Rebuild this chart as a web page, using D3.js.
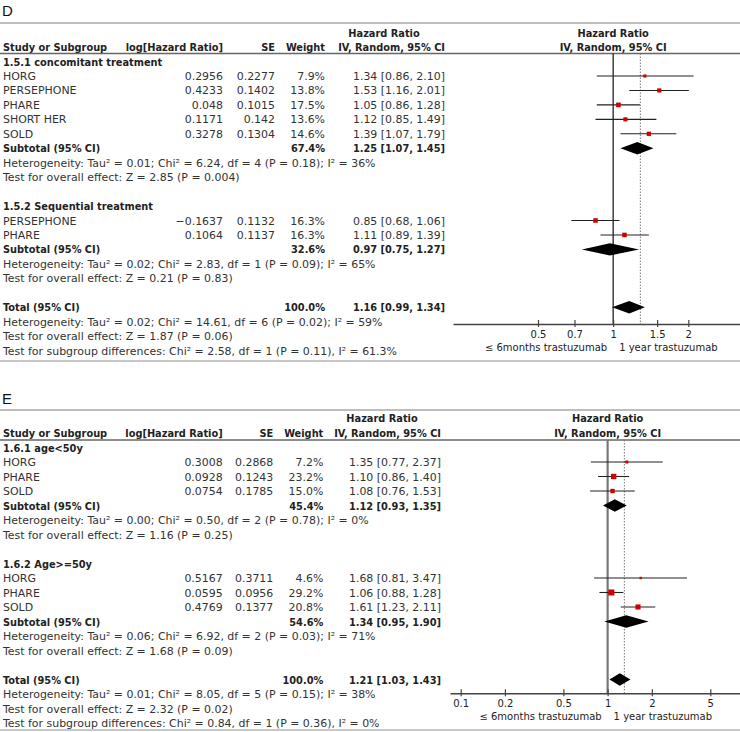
<!DOCTYPE html>
<html><head><meta charset="utf-8">
<script src="https://cdn.jsdelivr.net/npm/d3@7"></script>
<style>body{margin:0;background:#fff}svg{display:block}</style>
</head><body><svg id="c" width="740" height="732"></svg>
<script>
// ---------- Panel D data ----------
const dGroups = ["1.5.1 concomitant treatment", "1.5.2 Sequential treatment"];
const dStudy = ["HORG", "PERSEPHONE", "PHARE", "SHORT HER", "SOLD", "PERSEPHONE", "PHARE"];
const dStudyGroup = [0, 0, 0, 0, 0, 1, 1];
const dLogHR = ["0.2956", "0.4233", "0.048", "0.1171", "0.3278", "\u22120.1637", "0.1064"];
const dSE = ["0.2277", "0.1402", "0.1015", "0.142", "0.1304", "0.1132", "0.1137"];
const dWeight = [7.9, 13.8, 17.5, 13.6, 14.6, 16.3, 16.3];
const dHR = [1.34, 1.53, 1.05, 1.12, 1.39, 0.85, 1.11];
const dLo = [0.86, 1.16, 0.86, 0.85, 1.07, 0.68, 0.89];
const dHi = [2.10, 2.01, 1.28, 1.49, 1.79, 1.06, 1.39];
const dSubWeight = [67.4, 32.6];
const dSubHR = [1.25, 0.97];
const dSubLo = [1.07, 0.75];
const dSubHi = [1.45, 1.27];
const dSubHet = ["Heterogeneity: Tau\u00b2 = 0.01; Chi\u00b2 = 6.24, df = 4 (P = 0.18); I\u00b2 = 36%",
                 "Heterogeneity: Tau\u00b2 = 0.02; Chi\u00b2 = 2.83, df = 1 (P = 0.09); I\u00b2 = 65%"];
const dSubTest = ["Test for overall effect: Z = 2.85 (P = 0.004)", "Test for overall effect: Z = 0.21 (P = 0.83)"];
const dTotalWeight = 100.0, dTotalHR = 1.16, dTotalLo = 0.99, dTotalHi = 1.34;
const dTotalNotes = ["Heterogeneity: Tau\u00b2 = 0.02; Chi\u00b2 = 14.61, df = 6 (P = 0.02); I\u00b2 = 59%",
                     "Test for overall effect: Z = 1.87 (P = 0.06)",
                     "Test for subgroup differences: Chi\u00b2 = 2.58, df = 1 (P = 0.11), I\u00b2 = 61.3%"];
const dTicks = [0.5, 0.7, 1, 1.5, 2];
const dDotted = 1.285;

// ---------- Panel E data ----------
const eGroups = ["1.6.1 age<50y", "1.6.2 Age>=50y"];
const eStudy = ["HORG", "PHARE", "SOLD", "HORG", "PHARE", "SOLD"];
const eStudyGroup = [0, 0, 0, 1, 1, 1];
const eLogHR = ["0.3008", "0.0928", "0.0754", "0.5167", "0.0595", "0.4769"];
const eSE = ["0.2868", "0.1243", "0.1785", "0.3711", "0.0956", "0.1377"];
const eWeight = [7.2, 23.2, 15.0, 4.6, 29.2, 20.8];
const eHR = [1.35, 1.10, 1.08, 1.68, 1.06, 1.61];
const eLo = [0.77, 0.86, 0.76, 0.81, 0.88, 1.23];
const eHi = [2.37, 1.40, 1.53, 3.47, 1.28, 2.11];
const eSubWeight = [45.4, 54.6];
const eSubHR = [1.12, 1.34];
const eSubLo = [0.93, 0.95];
const eSubHi = [1.35, 1.90];
const eSubHet = ["Heterogeneity: Tau\u00b2 = 0.00; Chi\u00b2 = 0.50, df = 2 (P = 0.78); I\u00b2 = 0%",
                 "Heterogeneity: Tau\u00b2 = 0.06; Chi\u00b2 = 6.92, df = 2 (P = 0.03); I\u00b2 = 71%"];
const eSubTest = ["Test for overall effect: Z = 1.16 (P = 0.25)", "Test for overall effect: Z = 1.68 (P = 0.09)"];
const eTotalWeight = 100.0, eTotalHR = 1.21, eTotalLo = 1.03, eTotalHi = 1.43;
const eTotalNotes = ["Heterogeneity: Tau\u00b2 = 0.01; Chi\u00b2 = 8.05, df = 5 (P = 0.15); I\u00b2 = 38%",
                     "Test for overall effect: Z = 2.32 (P = 0.02)",
                     "Test for subgroup differences: Chi\u00b2 = 0.84, df = 1 (P = 0.36), I\u00b2 = 0%"];
const eTicks = [0.1, 0.2, 0.5, 1, 2, 5];
const eDotted = 1.3;

const axisLeftLabel = "\u2264 6months trastuzumab";
const axisRightLabel = "1 year trastuzumab";

// ---------- drawing ----------
const svg = d3.select("#c");
const FONT = "'DejaVu Sans', Verdana, sans-serif";
const FONT_B = "'DejaVu Sans Condensed', 'DejaVu Sans', sans-serif";
const FS = 10.95, FSB = 10.9, FSA = 10;
function txt(g, x, y, s, o = {}) {
  return g.append("text").attr("x", x).attr("y", y).text(s)
    .attr("font-family", o.family || (o.bold ? FONT_B : FONT))
    .attr("font-size", o.size || (o.bold ? FSB : FS))
    .attr("font-weight", o.bold ? "bold" : "normal")
    .attr("text-anchor", o.anchor || "start")
    .attr("fill", o.fill || "#222");
}
const fmtCI = (h, l, u) => h.toFixed(2) + " [" + l.toFixed(2) + ", " + u.toFixed(2) + "]";
const fmtW = w => w.toFixed(1) + "%";

function drawPanel(P, L) {
  const g = svg.append("g");
  const x = d3.scaleLog().domain([L.anchor[0][0], L.anchor[1][0]]).range([L.anchor[0][1], L.anchor[1][1]]);
  x.domain([x.invert(L.axisX[0]), x.invert(L.axisX[1])]).range(L.axisX);
  const x1 = x(1);

  txt(g, 2, L.labelY, P.label, {size: 15, family: "'Liberation Sans', Arial, sans-serif", fill: "#111"});
  g.append("line").attr("x1", 0).attr("x2", 740).attr("y1", L.topRule).attr("y2", L.topRule)
    .attr("stroke", "#bdbdbd").attr("stroke-width", 2);
  g.append("line").attr("x1", 0).attr("x2", 740).attr("y1", L.headRule).attr("y2", L.headRule)
    .attr("stroke", "#666").attr("stroke-width", 1.5);
  g.append("line").attr("x1", 0).attr("x2", 740).attr("y1", L.bottomRule).attr("y2", L.bottomRule)
    .attr("stroke", "#c8c8c8").attr("stroke-width", 2);

  // headers
  const b1 = L.head1 + 4, b2 = L.head2 + 4;
  txt(g, L.cols.hrHead, b1, "Hazard Ratio", {bold: true, anchor: "middle"});
  txt(g, x1, b1, "Hazard Ratio", {bold: true, anchor: "middle"});
  txt(g, 3, b2, "Study or Subgroup", {bold: true});
  txt(g, L.cols.log, b2, "log[Hazard Ratio]", {bold: true, anchor: "end"});
  txt(g, L.cols.se, b2, "SE", {bold: true, anchor: "end"});
  txt(g, L.cols.w, b2, "Weight", {bold: true, anchor: "end"});
  txt(g, L.cols.ci, b2, "IV, Random, 95% CI", {bold: true, anchor: "end"});
  txt(g, x1, b2, "IV, Random, 95% CI", {bold: true, anchor: "middle"});

  // reference lines
  g.append("line").attr("x1", x(P.dotted)).attr("x2", x(P.dotted)).attr("y1", L.headRule).attr("y2", L.axisY)
    .attr("stroke", "#777").attr("stroke-width", 1).attr("stroke-dasharray", "1.5,1.5");
  g.append("line").attr("x1", x1).attr("x2", x1).attr("y1", L.headRule).attr("y2", L.axisY)
    .attr("stroke", L.oneColor).attr("stroke-width", L.oneWidth);

  // rows
  const rows = [];
  P.groups.forEach((gname, gi) => {
    rows.push({type: "group", text: gname});
    P.study.forEach((s, i) => { if (P.studyGroup[i] === gi) rows.push({type: "study", i}); });
    rows.push({type: "sub", gi});
    rows.push({type: "note", text: P.subHet[gi]});
    rows.push({type: "note", text: P.subTest[gi]});
    rows.push({type: "blank"});
  });
  rows.push({type: "total"});
  P.totalNotes.forEach(t => rows.push({type: "note", text: t}));

  const diamond = (hr, lo, hi, cy) => {
    const h = 6.2;
    g.append("path").attr("d", `M${x(lo)},${cy}L${x(hr)},${cy - h}L${x(hi)},${cy}L${x(hr)},${cy + h}Z`)
      .attr("fill", "#000");
  };

  rows.forEach((r, idx) => {
    const cy = L.row0 + idx * L.step, by = cy + 4;
    if (r.type === "group") txt(g, 3, by, r.text, {bold: true});
    else if (r.type === "note") txt(g, 3, by, r.text, {fill: "#333"});
    else if (r.type === "study") {
      const i = r.i;
      txt(g, 3, by, P.study[i], {fill: "#333"});
      txt(g, L.cols.log, by, P.logHR[i], {anchor: "end", fill: "#333"});
      txt(g, L.cols.se, by, P.se[i], {anchor: "end", fill: "#333"});
      txt(g, L.cols.w, by, fmtW(P.weight[i]), {anchor: "end", fill: "#333"});
      txt(g, L.cols.ci, by, fmtCI(P.hr[i], P.lo[i], P.hi[i]), {anchor: "end", fill: "#333"});
      g.append("line").attr("x1", x(P.lo[i])).attr("x2", x(P.hi[i])).attr("y1", cy).attr("y2", cy)
        .attr("stroke", "#222").attr("stroke-width", 1.1);
      const s = 1.12 * Math.sqrt(P.weight[i]);
      g.append("rect").attr("x", x(P.hr[i]) - s / 2).attr("y", cy - s / 2).attr("width", s).attr("height", s)
        .attr("fill", "#d00000");
    } else if (r.type === "sub") {
      const gi = r.gi;
      txt(g, 3, by, "Subtotal (95% CI)", {bold: true});
      txt(g, L.cols.w, by, fmtW(P.subWeight[gi]), {bold: true, anchor: "end"});
      txt(g, L.cols.ci, by, fmtCI(P.subHR[gi], P.subLo[gi], P.subHi[gi]), {bold: true, anchor: "end"});
      diamond(P.subHR[gi], P.subLo[gi], P.subHi[gi], cy);
    } else if (r.type === "total") {
      txt(g, 3, by, "Total (95% CI)", {bold: true});
      txt(g, L.cols.w, by, fmtW(P.totalWeight), {bold: true, anchor: "end"});
      txt(g, L.cols.ci, by, fmtCI(P.totalHR, P.totalLo, P.totalHi), {bold: true, anchor: "end"});
      diamond(P.totalHR, P.totalLo, P.totalHi, cy);
    }
  });

  // axis
  const ax = g.append("g").attr("transform", `translate(0,${L.axisY})`)
    .call(d3.axisBottom(x).tickValues(P.ticks).tickFormat(d => String(d)).tickSizeOuter(0));
  ax.select(".domain").attr("stroke", "#444").attr("stroke-width", 1.4);
  ax.selectAll(".tick line").attr("y1", -4).attr("y2", 3).attr("stroke", "#444").attr("stroke-width", 1.2);
  ax.selectAll(".tick text").attr("y", 13.5).attr("dy", null)
    .attr("font-family", FONT).attr("font-size", FSA).attr("fill", "#222");
  txt(g, x1 - 6, L.axisY + 27, axisLeftLabel, {anchor: "end", size: FSA});
  txt(g, x1 + 6, L.axisY + 27, axisRightLabel, {anchor: "start", size: FSA});
}

drawPanel(
  {label: "D", groups: dGroups, study: dStudy, studyGroup: dStudyGroup, logHR: dLogHR, se: dSE,
   weight: dWeight, hr: dHR, lo: dLo, hi: dHi, subWeight: dSubWeight, subHR: dSubHR, subLo: dSubLo,
   subHi: dSubHi, subHet: dSubHet, subTest: dSubTest, totalWeight: dTotalWeight, totalHR: dTotalHR,
   totalLo: dTotalLo, totalHi: dTotalHi, totalNotes: dTotalNotes, ticks: dTicks, dotted: dDotted},
  {labelY: 15.5, topRule: 23, head1: 32.5, head2: 47, headRule: 53.5, row0: 61.55, step: 14.45,
   axisY: 324, bottomRule: 361, cols: {log: 223, se: 275, w: 325, ci: 445, hrHead: 384},
   anchor: [[0.5, 538], [2, 688.3]], axisX: [453, 740], oneColor: "#111", oneWidth: 1.2});

drawPanel(
  {label: "E", groups: eGroups, study: eStudy, studyGroup: eStudyGroup, logHR: eLogHR, se: eSE,
   weight: eWeight, hr: eHR, lo: eLo, hi: eHi, subWeight: eSubWeight, subHR: eSubHR, subLo: eSubLo,
   subHi: eSubHi, subHet: eSubHet, subTest: eSubTest, totalWeight: eTotalWeight, totalHR: eTotalHR,
   totalLo: eTotalLo, totalHi: eTotalHi, totalNotes: eTotalNotes, ticks: eTicks, dotted: eDotted},
  {labelY: 403.5, topRule: 410, head1: 418, head2: 432.7, headRule: 440, row0: 447.5, step: 14.5,
   axisY: 693.3, bottomRule: 730, cols: {log: 222.7, se: 273.3, w: 323.3, ci: 441, hrHead: 382},
   anchor: [[0.1, 460.7], [5, 710.3]], axisX: [450, 740], oneColor: "#777", oneWidth: 2.2});
</script></body></html>
